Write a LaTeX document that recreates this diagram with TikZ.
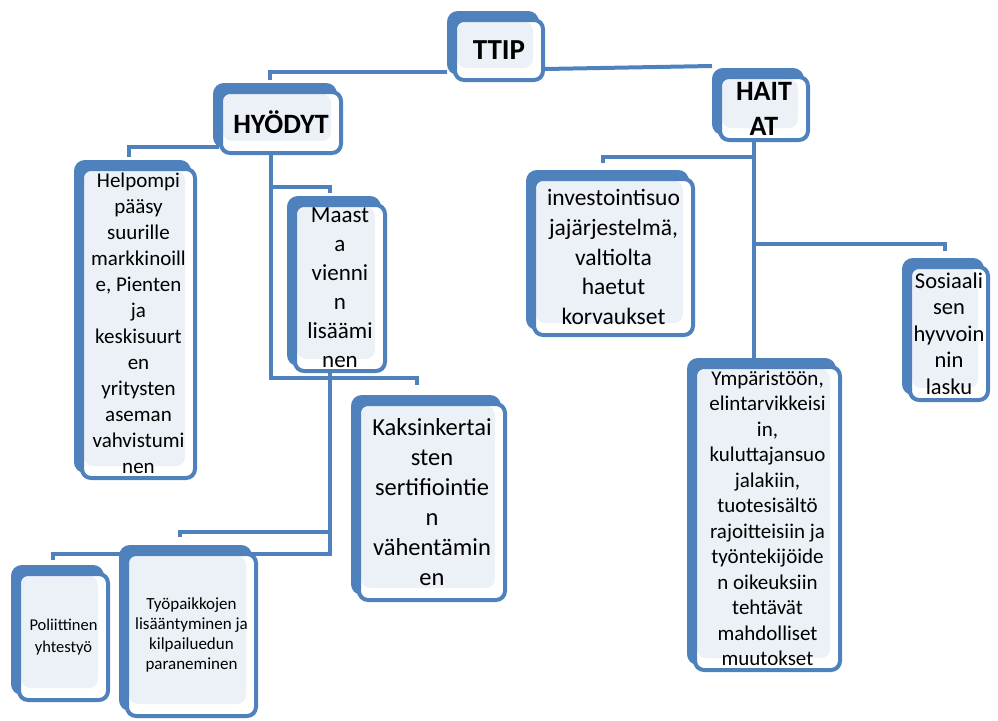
\documentclass[tikz,border=0pt]{standalone}
\usepackage{fontspec}
\setmainfont{Carlito}
\usetikzlibrary{shadows,backgrounds}
\definecolor{boxblue}{RGB}{79,129,189}
\definecolor{panel}{RGB}{236,241,248}

\begin{document}
\begin{tikzpicture}[x=1pt, y=-1pt, line width=4pt]
    % Styles
    \tikzstyle{card}=[rectangle, draw=boxblue, rounded corners=9pt, fill=white, align=center, inner sep=0pt,
        copy shadow={shadow xshift=-6pt, shadow yshift=7pt, fill=boxblue, draw=boxblue},
        path picture={\fill[panel] ([shift={(2pt,-2pt)}]path picture bounding box.north west) rectangle ([shift={(-10pt,12pt)}]path picture bounding box.south east);}]
    \tikzstyle{head}=[card, font=\bfseries\fontsize{28}{35}\selectfont]
    \tikzstyle{link}=[draw=boxblue, line width=4pt]

    \useasboundingbox (0,0) rectangle (998,720);

    % Top levels
    \node (ttip) [head, minimum width=88pt, minimum height=60pt, font=\bfseries\fontsize{29}{35}\selectfont] at (499,50) {TTIP};
    \node (hyodyt) [head, minimum width=120pt, minimum height=61pt] at (281,122.5) {HYÖDYT};
    \node (haitat) [head, minimum width=88pt, minimum height=63pt] at (764,108.5) {HAIT\\AT};

    % Benefits
    \node (helpompi) [card, minimum width=113pt, minimum height=309pt, font=\fontsize{21}{26}\selectfont] at (138.5,323.5)
        {Helpompi\\pääsy\\suurille\\markkinoill\\e, Pienten\\ja\\keskisuurt\\en\\yritysten\\aseman\\vahvistumi\\nen};
    \node (maasta) [card, minimum width=90pt, minimum height=166pt, font=\fontsize{23}{29}\selectfont] at (340,288)
        {Maast\\a\\vienni\\n\\lisäämi\\nen};
    \node (kaksin) [card, minimum width=146pt, minimum height=196pt, font=\fontsize{24.5}{30}\selectfont] at (432,502)
        {Kaksinkertai\\sten\\sertifiointie\\n\\vähentämin\\en};
    \node (poliit) [card, minimum width=89pt, minimum height=126pt, font=\fontsize{16.5}{21.7}\selectfont] at (63.5,637)
        {Poliittinen\\yhtestyö};
    \node (tyopaikka) [card, minimum width=129pt, minimum height=162pt, font=\fontsize{17}{20}\selectfont] at (191.5,635)
        {Työpaikkojen\\lisääntyminen ja\\kilpailuedun\\paraneminen};

    % Drawbacks
    \node (investointi) [card, minimum width=159pt, minimum height=156pt, font=\fontsize{23.5}{29.8}\selectfont] at (613.5,257)
        {investointisuo\\jajärjestelmä,\\valtiolta\\haetut\\korvaukset};
    \node (sosiaali) [card, minimum width=78pt, minimum height=133pt, font=\fontsize{22.5}{26.5}\selectfont] at (949,333.5)
        {Sosiaali\\sen\\hyvvoin\\nin\\lasku};
    \node (ymparisto) [card, minimum width=145pt, minimum height=303pt, font=\fontsize{21}{25.5}\selectfont] at (767.5,518.5)
        {Ympäristöön,\\elintarvikkeisi\\in,\\kuluttajansuo\\jalakiin,\\tuotesisältö\\rajoitteisiin ja\\työntekijöide\\n oikeuksiin\\tehtävät\\mahdolliset\\muutokset};

    % Connectors
    \begin{scope}[on background layer]
    \draw[link] ([shift={(-6pt,-22pt)}]ttip.west) -| ([shift={(-11pt,10pt)}]hyodyt.north);
    \draw[link] ([yshift=-19pt]ttip.east) -- ([shift={(-6pt,9pt)}]haitat.north west);
    \draw[link] ([yshift=-24.5pt]hyodyt.west) -| ([shift={(-9.5pt,10pt)}]helpompi.north);
    \draw[link] ([xshift=-10pt]hyodyt.south) |- ([shift={(-10pt,16pt)}]maasta.north) -- ([shift={(-10pt,10pt)}]maasta.north);
    \draw[link] ([xshift=-10pt]hyodyt.south) |- ([shift={(-15pt,24pt)}]kaksin.north) -- ([shift={(-15pt,17pt)}]kaksin.north);
    \draw[link] ([xshift=-10pt]maasta.south) |- ([shift={(-11.5pt,20pt)}]tyopaikka.north) -- ([shift={(-11.5pt,15pt)}]tyopaikka.north);
    \draw[link] ([xshift=-10pt]maasta.south) |- ([shift={(-10.5pt,18pt)}]poliit.north) -- ([shift={(-10.5pt,12pt)}]poliit.north);
    \draw[link] ([xshift=-10pt]haitat.south) |- ([shift={(-10.5pt,20pt)}]investointi.north) -- ([shift={(-10.5pt,14pt)}]investointi.north);
    \draw[link] ([xshift=-10pt]haitat.south) |- ([shift={(-4pt,21pt)}]sosiaali.north) -- ([shift={(-4pt,14pt)}]sosiaali.north);
    \draw[link] ([xshift=-10pt]haitat.south) -- ([xshift=-13.5pt]ymparisto.north);
    \end{scope}

\end{tikzpicture}
\end{document}
